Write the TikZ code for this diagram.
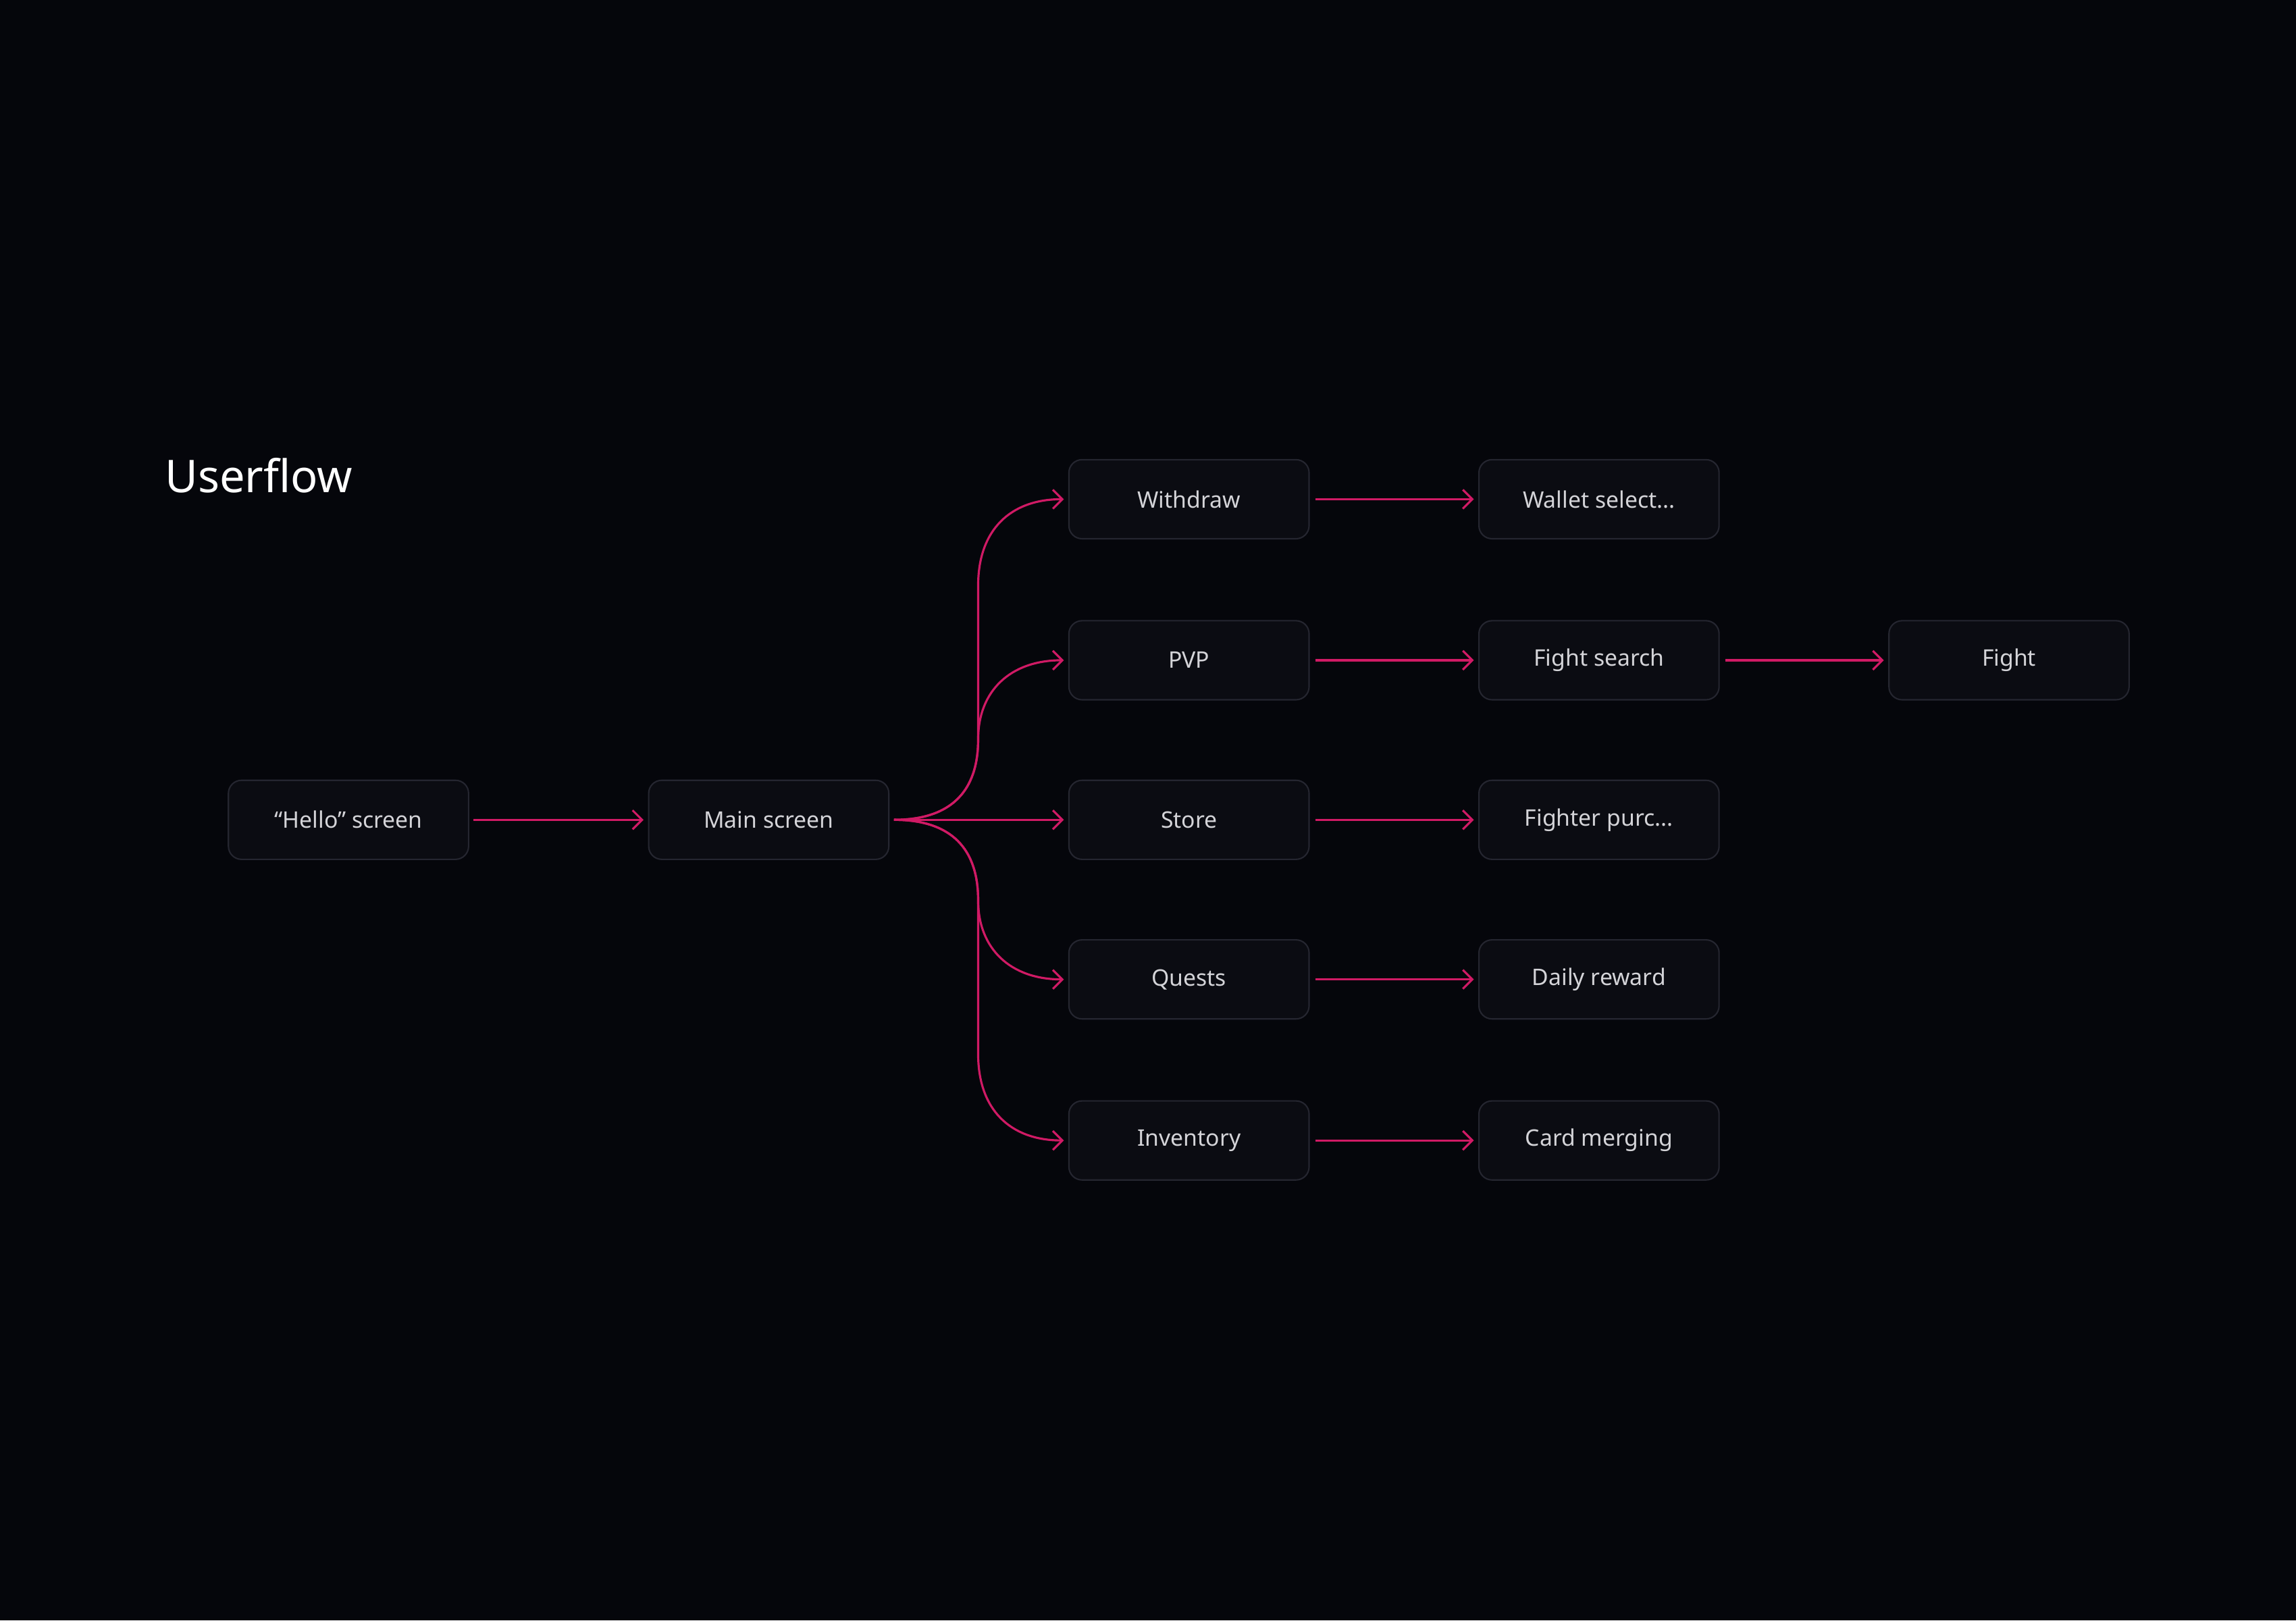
\documentclass[tikz,border=0pt]{standalone}
\usepackage{fontspec}
\setmainfont{Noto Sans}
\usetikzlibrary{arrows.meta}
\definecolor{bg}{HTML}{05060B}
\definecolor{boxfill}{HTML}{0B0C12}
\definecolor{boxline}{HTML}{252630}
\definecolor{flow}{HTML}{D01A65}
\definecolor{txt}{HTML}{D4D4D8}
\begin{document}
\begin{tikzpicture}[x=0.021684cm,y=-0.021684cm,
  card/.style={draw=boxline,fill=boxfill,line width=0.6pt,rounded corners=5.5pt,minimum width=164*0.021684cm,minimum height=54*0.021684cm,inner sep=0pt,text=txt,font=\fontsize{9.6}{11}\selectfont\bfseries},
  flowline/.style={draw=flow,line width=0.9pt,-{Straight Barb[length=4pt,width=8pt,line width=0.9pt]}}]
\fill[bg] (0,0) rectangle (1568,1107);
\node[anchor=west,text=white,font=\fontsize{19}{22}\selectfont] (title) at (107,325) {Userflow};
\node[card] (hello) at (238,560) {“Hello” screen};
\node[card] (main) at (525,560) {Main screen};
\node[card] (wd) at (812,341) {Withdraw};
\node[card] (pvp) at (812,451) {PVP};
\node[card] (store) at (812,560) {Store};
\node[card] (quests) at (812,669) {Quests};
\node[card] (inv) at (812,779) {Inventory};
\node[card] (wallet) at (1092,341) {Wallet select...};
\node[card] (fsearch) at (1092,451) {Fight search};
\node[card] (fpurc) at (1092,560) {Fighter purc...};
\node[card] (daily) at (1092,669) {Daily reward};
\node[card] (cards) at (1092,779) {Card merging};
\node[card] (fight) at (1372,451) {Fight};
\coordinate (ms) at ([xshift=3*0.021684cm]main.east);
\draw[flowline] ([xshift=3*0.021684cm]hello.east) -- ([xshift=-3*0.021684cm]main.west);
\draw[flowline] (ms) .. controls (650,560) and (668,540) .. (668,505) -- (668,400) .. controls (668,362) and (690,341) .. ([xshift=-3*0.021684cm]wd.west);
\draw[flowline] (ms) .. controls (650,560) and (668,540) .. (668,505) .. controls (668,472) and (690,451) .. ([xshift=-3*0.021684cm]pvp.west);
\draw[flowline] (ms) -- ([xshift=-3*0.021684cm]store.west);
\draw[flowline] (ms) .. controls (650,560) and (668,580) .. (668,615) .. controls (668,648) and (690,669) .. ([xshift=-3*0.021684cm]quests.west);
\draw[flowline] (ms) .. controls (650,560) and (668,580) .. (668,615) -- (668,720) .. controls (668,758) and (690,779) .. ([xshift=-3*0.021684cm]inv.west);
\foreach \a/\b in {wd/wallet,pvp/fsearch,store/fpurc,quests/daily,inv/cards,fsearch/fight}
  \draw[flowline] ([xshift=4*0.021684cm]\a.east) -- ([xshift=-3*0.021684cm]\b.west);
\end{tikzpicture}
\end{document}
